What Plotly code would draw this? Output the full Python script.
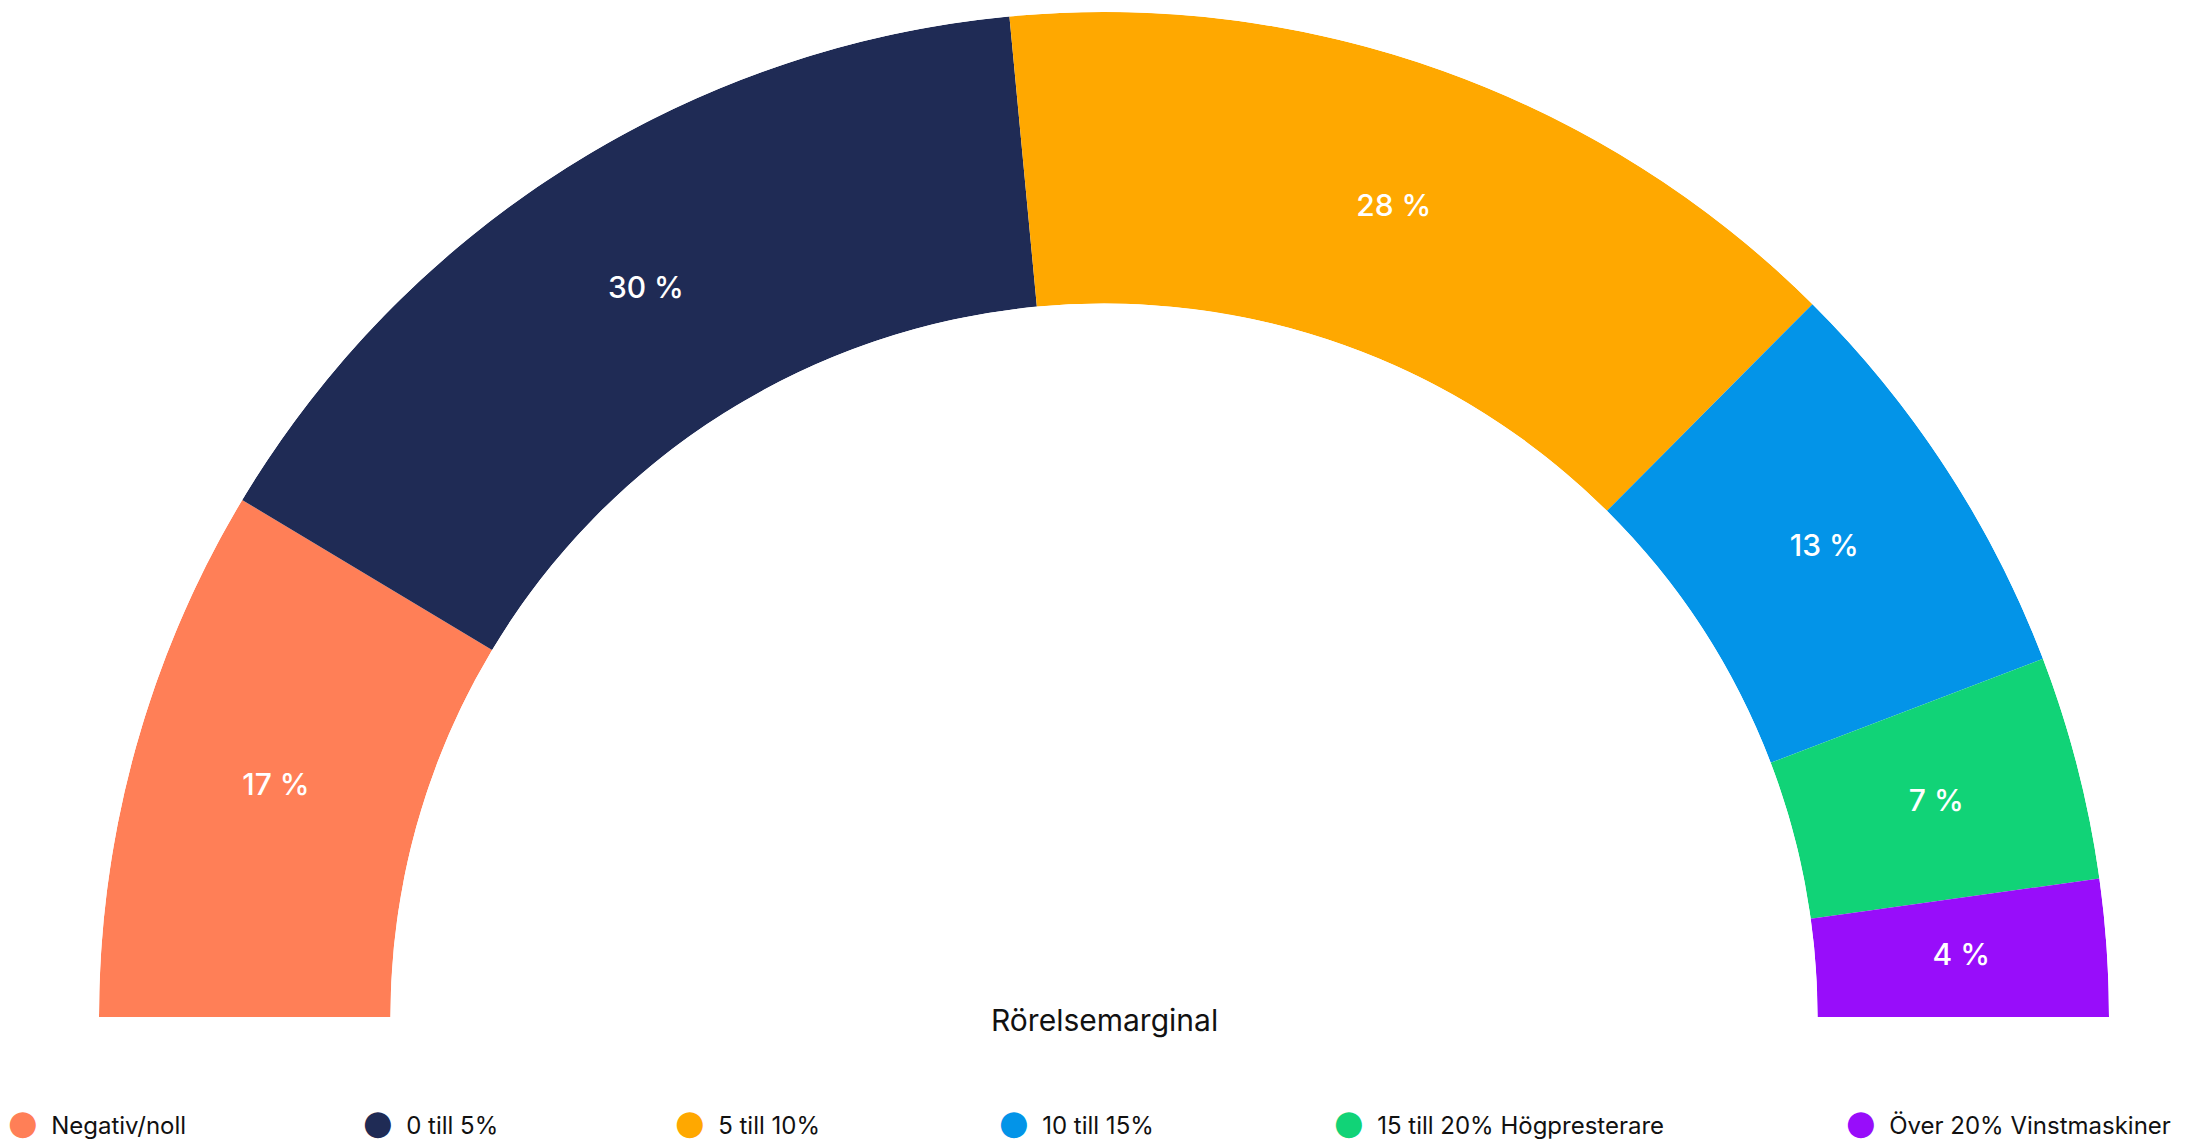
import plotly.graph_objects as go

# data (share of companies per operating margin band)
categories = ["Negativ/noll", "0 till 5%", "5 till 10%", "10 till 15%",
              "15 till 20% Högpresterare", "Över 20% Vinstmaskiner"]
shares = [17.2, 29.8, 27.9, 13.5, 7.2, 4.4]
labels = ["17 %", "30 %", "28 %", "13 %", "7 %", "4 %"]
colors = ["#FF7F57", "#1F2B55", "#FFA800", "#0394E8", "#11D377", "#980DFA"]

W, H = 2194, 1148
PAGE = 7  # the html page adds its own body margin, so pull everything back a bit
ML, MT = 98 - PAGE, 11 - PAGE
PW, PH = 2010, 1005
MR, MB = W - ML - PW, H - MT - PH

# half donut: map the shares onto 0..180 degrees
total = sum(shares)
widths = [s / total * 180 for s in shares]
mids = []
acc = 0
for w in widths:
    mids.append(acc + w / 2)
    acc += w

fig = go.Figure()

fig.add_trace(go.Barpolar(
    r=[1] * len(shares), theta=mids, width=widths, base=0,
    marker=dict(color=colors, line=dict(width=0)),
    showlegend=False, hoverinfo="skip",
))

fig.add_trace(go.Scatterpolar(
    r=[0.5] * len(shares), theta=mids, mode="text", text=labels,
    textfont=dict(family="Inter", size=30, color="white", weight=500),
    showlegend=False, hoverinfo="skip",
))

# one legend per item, spread across the bottom like the original
# (legend symbols are capped at 16px, so the dot is drawn as a glyph instead)
legend_px = [24, 379, 691, 1015, 1350, 1862]
legend_y = -108 / PH
for i, (name, col) in enumerate(zip(categories, colors)):
    key = "legend" if i == 0 else f"legend{i + 1}"
    dot = f"<span style='color:{col};font-family:DejaVu Sans;font-size:34px'>●</span>"
    fig.add_trace(go.Scatterpolar(
        r=[None], theta=[None], mode="none", name=f"{dot}  {name}",
        legend=key, showlegend=True,
    ))
    fig.update_layout({key: dict(
        x=(legend_px[i] - PAGE - 57 - ML) / PW, xanchor="left",
        y=legend_y, yanchor="middle",
        orientation="h", itemwidth=30, bgcolor="rgba(0,0,0,0)",
        font=dict(family="Inter", size=24, color="#111111"),
        itemclick=False, itemdoubleclick=False,
    )})

fig.update_layout(
    width=W, height=H,
    margin=dict(l=ML, r=MR, t=MT, b=MB, autoexpand=False),
    paper_bgcolor="white",
    font=dict(family="Inter"),
    polar=dict(
        domain=dict(x=[0, 1], y=[0, 1]),
        sector=[0, 180], hole=0.71, bgcolor="white",
        angularaxis=dict(direction="clockwise", rotation=180, visible=False, showgrid=False),
        radialaxis=dict(range=[0, 1], visible=False, showgrid=False),
    ),
    annotations=[dict(
        text="Rörelsemarginal", x=0.5, y=0, xref="paper", yref="paper",
        xanchor="center", yanchor="middle", yshift=-3, showarrow=False,
        font=dict(family="Inter", size=30, color="#111111"),
    )],
)

fig.write_html("out.html")
